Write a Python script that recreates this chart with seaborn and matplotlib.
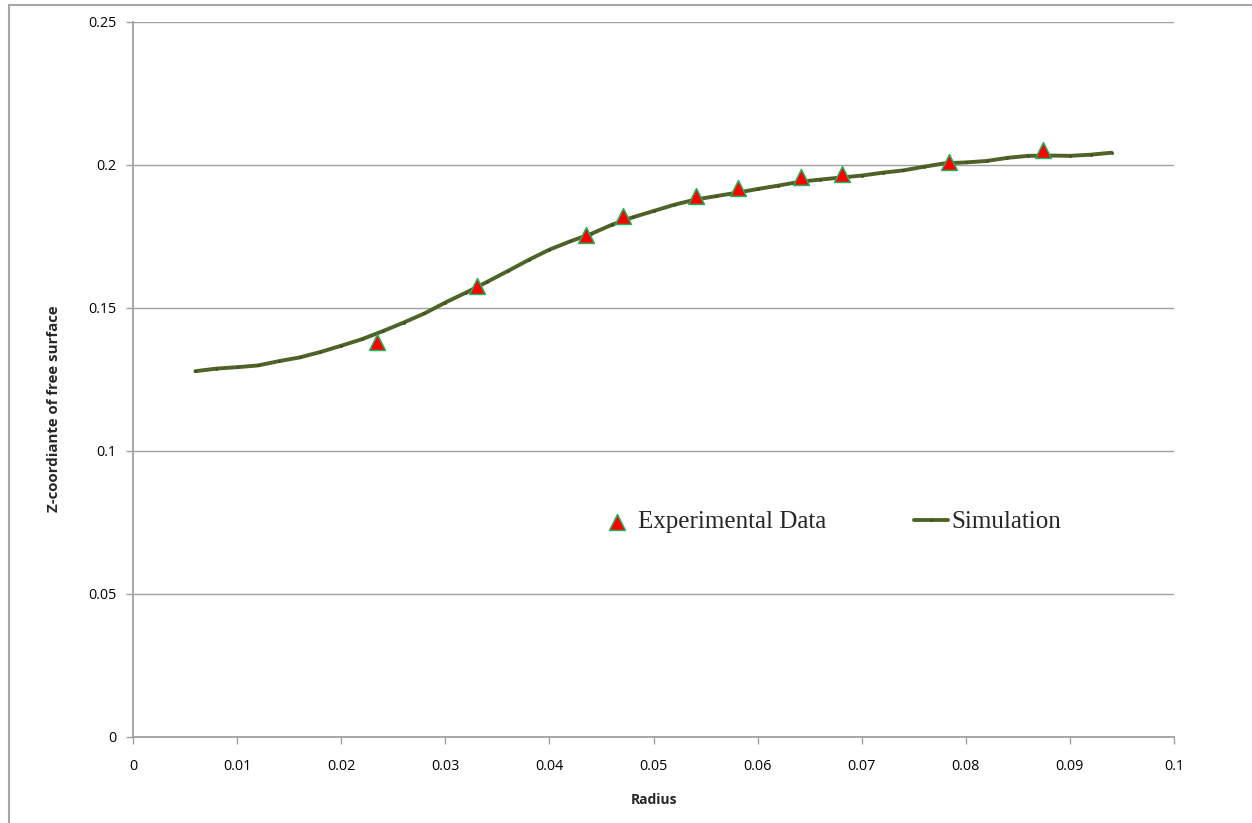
import matplotlib
matplotlib.use("Agg")
import matplotlib.pyplot as plt
from matplotlib.lines import Line2D
import seaborn as sns
import pandas as pd

# Simulated free-surface profile
sim_radius = [0.006, 0.008, 0.010, 0.012, 0.014, 0.016, 0.018, 0.020, 0.022, 0.024,
              0.026, 0.028, 0.030, 0.032, 0.034, 0.036, 0.038, 0.040, 0.042, 0.044,
              0.046, 0.048, 0.050, 0.052, 0.054, 0.056, 0.058, 0.060, 0.062, 0.064,
              0.066, 0.068, 0.070, 0.072, 0.074, 0.076, 0.078, 0.080, 0.082, 0.084,
              0.086, 0.088, 0.090, 0.092, 0.094]
sim_z = [0.1278, 0.1287, 0.1292, 0.1298, 0.1313, 0.1326, 0.1345, 0.1367, 0.1390, 0.1418,
         0.1448, 0.1480, 0.1518, 0.1553, 0.1590, 0.1628, 0.1667, 0.1703, 0.1732, 0.1758,
         0.1790, 0.1816, 0.1838, 0.1860, 0.1878, 0.1890, 0.1902, 0.1915, 0.1927, 0.1940,
         0.1948, 0.1955, 0.1962, 0.1972, 0.1980, 0.1993, 0.2005, 0.2008, 0.2013, 0.2024,
         0.2031, 0.2032, 0.2031, 0.2035, 0.2042]

# Measured free-surface points
exp_radius = [0.0234, 0.0330, 0.0435, 0.0471, 0.0541, 0.0581, 0.0642, 0.0681, 0.0784, 0.0874]
exp_z = [0.1381, 0.1576, 0.1754, 0.1821, 0.1892, 0.1917, 0.1956, 0.1967, 0.2009, 0.2051]

x_ticks = [0, 0.01, 0.02, 0.03, 0.04, 0.05, 0.06, 0.07, 0.08, 0.09, 0.1]
x_tick_labels = ["0", "0.01", "0.02", "0.03", "0.04", "0.05", "0.06", "0.07", "0.08", "0.09", "0.1"]
y_ticks = [0, 0.05, 0.1, 0.15, 0.2, 0.25]
y_tick_labels = ["0", "0.05", "0.1", "0.15", "0.2", "0.25"]

sim_df = pd.DataFrame({"Radius": sim_radius, "Z": sim_z})
exp_df = pd.DataFrame({"Radius": exp_radius, "Z": exp_z})

sns.set_theme(style="white")
plt.rcParams["font.family"] = ["Open Sans", "DejaVu Sans"]

fig = plt.figure(figsize=(12.52, 8.23), dpi=100)
ax = fig.add_axes([133 / 1252, 1 - 736.7 / 823, (1174 - 133) / 1252, (736.7 - 21.7) / 823])

grid_gray = "#a0a0a0"
ax.set_xlim(0, 0.1)
ax.set_ylim(0, 0.25)
ax.set_yticks(y_ticks)
ax.set_yticklabels(y_tick_labels)
ax.set_xticks(x_ticks)
ax.set_xticklabels(x_tick_labels)
ax.yaxis.grid(True, color=grid_gray, linewidth=1.0)
ax.xaxis.grid(False)
ax.set_axisbelow(True)
for side in ("top", "right"):
    ax.spines[side].set_visible(False)
for side in ("left", "bottom"):
    ax.spines[side].set_color(grid_gray)
    ax.spines[side].set_linewidth(1.3)
ax.tick_params(axis="both", which="major", direction="out", length=5, width=1.0,
               color=grid_gray, labelsize=10.4, labelcolor="black", pad=7,
               bottom=True, left=True)
ax.tick_params(axis="x", pad=11)

sns.lineplot(data=sim_df, x="Radius", y="Z", ax=ax, color="#4f6228", linewidth=2.8,
             marker="o", markersize=2.0, markeredgewidth=0, sort=True,
             label="Simulation", zorder=3)
ax.lines[-1].set_markerfacecolor("#3e4d1f")
sns.scatterplot(data=exp_df, x="Radius", y="Z", ax=ax, marker="^", s=130,
                color="#ff0000", edgecolor="#22b05a", linewidth=1.1,
                label="Experimental Data", zorder=4)

ax.set_xlabel("Radius", fontsize=10, fontweight="bold")
ax.xaxis.set_label_coords(0.5, (736.7 - 793) / 715)
ax.set_ylabel("Z-coordiante of free surface", fontsize=10.8, fontweight="bold")
ax.yaxis.set_label_coords((61 - 133) / 1041, (736.7 - 408.5) / 715)

handles, labels = ax.get_legend_handles_labels()
order = [labels.index("Experimental Data"), labels.index("Simulation")]
leg = ax.legend([handles[i] for i in order], [labels[i] for i in order],
                loc="center left", bbox_to_anchor=(600 / 1252, 1 - 522 / 823),
                bbox_transform=fig.transFigure, ncol=2, frameon=False,
                prop={"family": "Liberation Serif", "size": 18},
                handlelength=1.36, handletextpad=0.16, columnspacing=3.5,
                borderaxespad=0, borderpad=0)

# Chart-area border
border = dict(color="#a6a6a6", linewidth=1.5, transform=fig.transFigure)
fig.add_artist(Line2D([8.5 / 1252, 8.5 / 1252], [0, 1 - 4.5 / 823], **border))
fig.add_artist(Line2D([8.5 / 1252, 1], [1 - 4.5 / 823, 1 - 4.5 / 823], **border))

fig.savefig("out.png", dpi=100)
